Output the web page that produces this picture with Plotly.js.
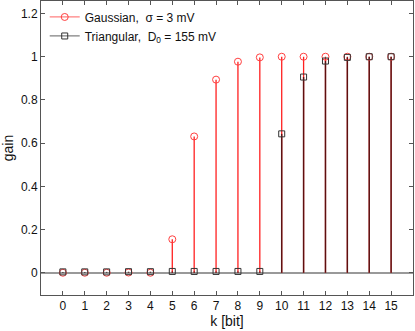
<!DOCTYPE html>
<html>
<head>
<meta charset="utf-8">
<script src="https://cdn.plot.ly/plotly-3.0.1.min.js"></script>
<style>
  html, body { margin: 0; padding: 0; background: #fff; }
  #chart { width: 415px; height: 331px; }
</style>
</head>
<body>
<div id="chart"></div>
<script>
"use strict";

// bits k and the gain
var bits = [0, 1, 2, 3, 4, 5, 6, 7, 8, 9, 10, 11, 12, 13, 14, 15];
var gaussGain = [0, 0, 0, 0.001, 0, 0.155, 0.631, 0.894, 0.977, 0.997, 1, 1, 1, 1, 1, 1];
var triGain = [0.004, 0.004, 0.004, 0.005, 0.005, 0.006, 0.006, 0.006, 0.006, 0.006, 0.643, 0.906, 0.98, 0.997, 1, 1];
var gaussName = "Gaussian,  \u03c3 = 3 mV";
var triName = "Triangular,  D<sub>0</sub> = 155 mV";

// vertical stems from 0 up to each value, split by nulls
function stems(xs, ys) {
	var sx = [], sy = [];
	for (var i = 0; i < xs.length; i++) {
		sx.push(xs[i], xs[i], null);
		sy.push(0, ys[i], null);
	}
	return { x: sx, y: sy };
} //stems

// markers split by nulls so lines+markers shows only points, legend keeps the line
function heads(xs, ys) {
	var hx = [], hy = [];
	for (var i = 0; i < xs.length; i++) {
		hx.push(xs[i], null);
		hy.push(ys[i], null);
	}
	return { x: hx, y: hy };
} //heads

function draw() {
	var gs = stems(bits, gaussGain),
		ts = stems(bits, triGain),
		gh = heads(bits, gaussGain),
		th = heads(bits, triGain);

	var data = [
		{
			x: gs.x, y: gs.y, mode: "lines", showlegend: false, hoverinfo: "skip",
			line: { color: "#ff2020", width: 1.3 }
		},
		{
			x: ts.x, y: ts.y, mode: "lines", showlegend: false, hoverinfo: "skip",
			line: { color: "rgba(40,10,10,0.75)", width: 1.5 }
		},
		{
			x: gh.x, y: gh.y, mode: "lines+markers", name: gaussName, connectgaps: false,
			line: { color: "#ff8080", width: 1.3 },
			marker: { symbol: "circle-open", size: 7, color: "#ff4040", line: { width: 1 } }
		},
		{
			x: th.x, y: th.y, mode: "lines+markers", name: triName, connectgaps: false,
			line: { color: "#808080", width: 1.3 },
			marker: { symbol: "square-open", size: 6, color: "#333333", line: { width: 1 } }
		}
	];

	var axisCommon = {
		showgrid: false,
		showline: true,
		linecolor: "#555555",
		linewidth: 1,
		mirror: "ticks",
		ticks: "inside",
		ticklen: 4,
		tickcolor: "#555555",
		tickfont: { family: "Liberation Sans, Arial, sans-serif", size: 12, color: "#111" }
	};

	var layout = {
		width: 415,
		height: 331,
		margin: { l: 41, r: 2, t: 1, b: 36 },
		paper_bgcolor: "#ffffff",
		plot_bgcolor: "#ffffff",
		font: { family: "Liberation Sans, Arial, sans-serif", size: 12, color: "#111" },
		xaxis: Object.assign({}, axisCommon, {
			range: [-1, 16],
			tickvals: bits,
			zeroline: false,
			title: { text: "k [bit]", font: { size: 14 }, standoff: 1 }
		}),
		yaxis: Object.assign({}, axisCommon, {
			range: [-0.103, 1.258],
			tickvals: [0, 0.2, 0.4, 0.6, 0.8, 1, 1.2],
			ticktext: ["0", "0.2", "0.4", "0.6", "0.8", "1", "1.2"],
			zeroline: true,
			zerolinecolor: "#999999",
			zerolinewidth: 1.5,
			title: { text: "gain", font: { size: 14 }, standoff: 5 }
		}),
		legend: {
			x: 0.01, y: 0.995, xanchor: "left", yanchor: "top",
			bgcolor: "rgba(255,255,255,0)",
			borderwidth: 0,
			font: { size: 12 },
			tracegroupgap: 0
		},
		showlegend: true
	};

	return Plotly.newPlot("chart", data, layout, { staticPlot: true });
} //draw

window.addEventListener("DOMContentLoaded", draw);
</script>
</body>
</html>
